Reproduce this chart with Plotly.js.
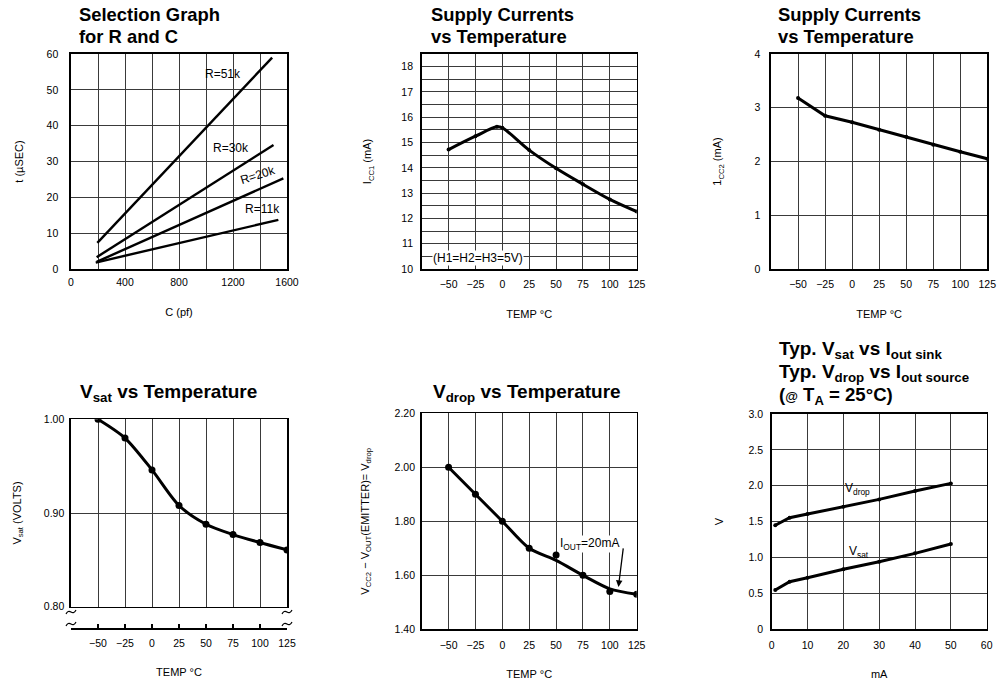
<!DOCTYPE html>
<html>
<head>
<meta charset="utf-8">
<script src="https://cdn.plot.ly/plotly-3.0.1.min.js"></script>
<style>html,body{margin:0;padding:0;background:#fff;}#chart{width:997px;height:682px;}</style>
</head>
<body>
<div id="chart"></div>
<script>
// ---------- data ----------
// Panel 1: Selection graph for R and C
const C_PF_51K = [195, 1490];
const T_US_51K = [7.3, 59.0];
const C_PF_30K = [190, 1500];
const T_US_30K = [3.3, 34.6];
const C_PF_20K = [190, 1573];
const T_US_20K = [2.0, 25.3];
const C_PF_11K = [183, 1536];
const T_US_11K = [1.8, 13.7];
const C_TICKS = [0, 400, 800, 1200, 1600];
const T_US_TICKS = [0, 10, 20, 30, 40, 50, 60];

// Temperature axis (shared by four panels)
const TEMP_C = [-50, -25, 0, 25, 50, 75, 100, 125];
const TEMP_TICKS = [-50, -25, 0, 25, 50, 75, 100, 125];

// Panel 2: ICC1 vs temperature
const ICC1_TEMP = [-50, -25, -5, 0, 25, 50, 75, 100, 125];
const ICC1_MA = [14.72, 15.25, 15.62, 15.58, 14.70, 13.98, 13.35, 12.75, 12.27];
const ICC1_TICKS = [10, 11, 12, 13, 14, 15, 16, 17, 18];

// Panel 3: ICC2 vs temperature
const ICC2_MA = [3.18, 2.85, 2.73, 2.59, 2.46, 2.31, 2.18, 2.05];
const ICC2_TICKS = [0, 1, 2, 3, 4];

// Panel 4: Vsat vs temperature
const VSAT_T = [1.000, 0.980, 0.946, 0.908, 0.888, 0.877, 0.8685, 0.8606];
const VSAT_TICKS = [0.80, 0.90, 1.00];
const VSAT_TICKTEXT = ['0.80', '0.90', '1.00'];

// Panel 5: Vdrop vs temperature
const VDROP_T_CURVE = [2.00, 1.90, 1.80, 1.70, 1.655, 1.60, 1.55, 1.53];
const VDROP_T_POINTS = [2.00, 1.90, 1.80, 1.70, 1.675, 1.60, 1.54, 1.53];
const VDROP_TICKS = [1.40, 1.60, 1.80, 2.00, 2.20];
const VDROP_TICKTEXT = ['1.40', '1.60', '1.80', '2.00', '2.20'];

// Panel 6: Vsat / Vdrop vs Iout at 25 C
const IOUT_MA = [1, 5, 10, 20, 30, 40, 50];
const VDROP_I = [1.45, 1.555, 1.606, 1.708, 1.81, 1.926, 2.033];
const VSAT_I = [0.547, 0.663, 0.719, 0.836, 0.942, 1.058, 1.188];
const IOUT_TICKS = [0, 10, 20, 30, 40, 50, 60];
const V_TICKS = [0, 0.5, 1.0, 1.5, 2.0, 2.5, 3.0];
const V_TICKTEXT = ['0', '0.5', '1.0', '1.5', '2.0', '2.5', '3.0'];

// ---------- styling ----------
const W = 997, H = 682;
const px = v => v / W;
const py = v => 1 - v / H;
const FAM = 'Liberation Sans, Arial, sans-serif';
const TICKFONT = {family: FAM, size: 10.5, color: '#000'};
const AXFONT = {family: FAM, size: 11, color: '#000'};
const ANNFONT = {family: FAM, size: 12, color: '#000'};
const TITLEFONT = {family: FAM, size: 18.4, color: '#000', weight: 700};
const TITLEFONT2 = {family: FAM, size: 19, color: '#000', weight: 700};
const GRID = '#3a3a3a';

function axis(extra) {
  return Object.assign({
    showgrid: true, gridcolor: GRID, gridwidth: 1,
    zeroline: false, showline: true, mirror: true, linecolor: '#000', linewidth: 1.6,
    ticks: '', tickfont: TICKFONT, tickmode: 'array', fixedrange: true
  }, extra);
}
const LINE = {color: '#000', width: 3};

const traces = [
  // panel 1
  {x: C_PF_51K, y: T_US_51K, xaxis: 'x', yaxis: 'y', mode: 'lines', line: {color: '#000', width: 2.4}},
  {x: C_PF_30K, y: T_US_30K, xaxis: 'x', yaxis: 'y', mode: 'lines', line: {color: '#000', width: 2.4}},
  {x: C_PF_20K, y: T_US_20K, xaxis: 'x', yaxis: 'y', mode: 'lines', line: {color: '#000', width: 2.4}},
  {x: C_PF_11K, y: T_US_11K, xaxis: 'x', yaxis: 'y', mode: 'lines', line: {color: '#000', width: 2.4}},
  // panel 2
  {x: ICC1_TEMP, y: ICC1_MA, xaxis: 'x2', yaxis: 'y2', mode: 'lines+markers',
    line: Object.assign({shape: 'spline', smoothing: 1}, LINE), marker: {color: '#000', size: 4}},
  // panel 3
  {x: TEMP_C, y: ICC2_MA, xaxis: 'x3', yaxis: 'y3', mode: 'lines+markers', line: LINE, marker: {color: '#000', size: 4}},
  // panel 4
  {x: TEMP_C, y: VSAT_T, xaxis: 'x4', yaxis: 'y4', mode: 'lines+markers', line: Object.assign({shape: 'spline', smoothing: 0.8}, LINE), marker: {color: '#000', size: 7}},
  {x: [], y: [], xaxis: 'x7', yaxis: 'y7', mode: 'lines'},
  // panel 5
  {x: TEMP_C, y: VDROP_T_CURVE, xaxis: 'x5', yaxis: 'y5', mode: 'lines', line: Object.assign({shape: 'spline', smoothing: 0.8}, LINE)},
  {x: TEMP_C, y: VDROP_T_POINTS, xaxis: 'x5', yaxis: 'y5', mode: 'markers', marker: {color: '#000', size: 7}},
  // panel 6
  {x: IOUT_MA, y: VDROP_I, xaxis: 'x6', yaxis: 'y6', mode: 'lines+markers', line: LINE, marker: {color: '#000', size: 4}},
  {x: IOUT_MA, y: VSAT_I, xaxis: 'x6', yaxis: 'y6', mode: 'lines+markers', line: LINE, marker: {color: '#000', size: 4}}
];

const tempX = (dom, anchor, extra) => axis(Object.assign({
  domain: dom, anchor: anchor, range: [-75, 125], tickvals: TEMP_TICKS, ticklabelstandoff: 5,
  title: {text: 'TEMP °C', font: AXFONT, standoff: 21}
}, extra || {}));

const SP = (sz, t) => '<span style="font-size:' + sz + 'px">' + t + '</span>';

const layout = {
  width: W, height: H, margin: {l: 0, r: 0, t: 0, b: 0},
  paper_bgcolor: '#fff', plot_bgcolor: '#fff', showlegend: false,
  font: {family: FAM, color: '#000'},
  // panel 1
  xaxis: axis({domain: [px(71), px(287)], anchor: 'y', range: [0, 1600], tickvals: C_TICKS,
    minor: {dtick: 200, showgrid: true, gridcolor: GRID, gridwidth: 1}, ticklabelstandoff: 3,
    title: {text: 'C (pf)', font: AXFONT, standoff: 21}}),
  yaxis: axis({domain: [py(269), py(54)], anchor: 'x', range: [0, 60], tickvals: T_US_TICKS, ticklabelstandoff: 9,
    title: {text: 't (µSEC)', font: AXFONT, standoff: 21}}),
  // panel 2
  xaxis2: tempX([px(421.7), px(636.7)], 'y2'),
  yaxis2: axis({domain: [py(269), py(54)], anchor: 'x2', range: [10, 18.5], tickvals: ICC1_TICKS, ticklabelstandoff: 5,
    minor: {dtick: 0.5, showgrid: true, gridcolor: GRID, gridwidth: 1},
    title: {text: 'I<sub>CC1</sub> (mA)', font: AXFONT, standoff: 27}}),
  // panel 3
  xaxis3: tempX([px(771), px(987.3)], 'y3'),
  yaxis3: axis({domain: [py(269), py(54)], anchor: 'x3', range: [0, 4], tickvals: ICC2_TICKS, ticklabelstandoff: 7,
    title: {text: '1<sub>CC2</sub> (mA)', font: AXFONT, standoff: 30}}),
  // panel 4
  xaxis4: axis({domain: [px(71), px(287)], anchor: 'y4', range: [-75, 125], tickvals: TEMP_TICKS, showticklabels: false}),
  yaxis4: axis({domain: [py(606.7), py(419.3)], anchor: 'x4', range: [0.8, 1.0], tickvals: VSAT_TICKS, ticktext: VSAT_TICKTEXT,
    ticklabelstandoff: 3, title: {text: 'V<sub>sat</sub> (VOLTS)', font: AXFONT, standoff: 20}}),
  xaxis7: tempX([px(71), px(287)], 'y7', {showgrid: false, mirror: false, ticks: 'inside', ticklen: 4, tickcolor: '#000', tickwidth: 1.3, ticklabelstandoff: 4}),
  yaxis7: {domain: [py(628.3), py(626)], anchor: 'x7', range: [0, 1], visible: false, fixedrange: true},
  // panel 5
  xaxis5: tempX([px(421.7), px(636.7)], 'y5'),
  yaxis5: axis({domain: [py(629.3), py(413.3)], anchor: 'x5', range: [1.4, 2.2], tickvals: VDROP_TICKS, ticktext: VDROP_TICKTEXT,
    ticklabelstandoff: 3, title: {text: 'V<sub>CC2</sub> − V<sub>OUT</sub>(EMITTER)= V<sub>drop</sub>', font: AXFONT, standoff: 23}}),
  // panel 6
  xaxis6: axis({domain: [px(771.7), px(986.7)], anchor: 'y6', range: [0, 60], tickvals: IOUT_TICKS, ticklabelstandoff: 5,
    title: {text: 'mA', font: AXFONT, standoff: 21}}),
  yaxis6: axis({domain: [py(629.3), py(414)], anchor: 'x6', range: [0, 3], tickvals: V_TICKS, ticktext: V_TICKTEXT,
    ticklabelstandoff: 5, title: {text: 'V', font: AXFONT, standoff: 22}}),
  annotations: [
    // titles
    {xref: 'paper', yref: 'paper', x: px(77), y: py(15), xanchor: 'left', yanchor: 'middle', showarrow: false,
      text: 'Selection Graph', font: TITLEFONT},
    {xref: 'paper', yref: 'paper', x: px(77), y: py(37), xanchor: 'left', yanchor: 'middle', showarrow: false,
      text: 'for R and C', font: TITLEFONT},
    {xref: 'paper', yref: 'paper', x: px(429), y: py(15), xanchor: 'left', yanchor: 'middle', showarrow: false,
      text: 'Supply Currents', font: TITLEFONT},
    {xref: 'paper', yref: 'paper', x: px(429), y: py(37), xanchor: 'left', yanchor: 'middle', showarrow: false,
      text: 'vs Temperature', font: TITLEFONT},
    {xref: 'paper', yref: 'paper', x: px(776), y: py(15), xanchor: 'left', yanchor: 'middle', showarrow: false,
      text: 'Supply Currents', font: TITLEFONT},
    {xref: 'paper', yref: 'paper', x: px(776), y: py(37), xanchor: 'left', yanchor: 'middle', showarrow: false,
      text: 'vs Temperature', font: TITLEFONT},
    {xref: 'paper', yref: 'paper', x: px(168), y: py(393), xanchor: 'center', yanchor: 'middle', showarrow: false,
      text: 'V<sub>sat</sub> vs Temperature', font: TITLEFONT2},
    {xref: 'paper', yref: 'paper', x: px(527), y: py(393), xanchor: 'center', yanchor: 'middle', showarrow: false,
      text: 'V<sub>drop</sub> vs Temperature', font: TITLEFONT2},
    {xref: 'paper', yref: 'paper', x: px(777), y: py(335.5), xanchor: 'left', yanchor: 'top', align: 'left', showarrow: false,
      text: SP(19, 'Typ. V<sub>sat</sub> vs I<sub>out sink</sub>') + '<br>' +
            SP(19, 'Typ. V<sub>drop</sub> vs I<sub>out source</sub>') + '<br>' +
            SP(18.6, '(' + SP(13, '@') + ' T<sub>A</sub> = 25°C)'),
      font: {family: FAM, size: 17.8, color: '#000', weight: 700}},
    // panel 1 labels
    {xref: 'x', yref: 'y', x: 1126, y: 54.4, text: 'R=51k', showarrow: false, font: ANNFONT},
    {xref: 'x', yref: 'y', x: 1185, y: 33.8, text: 'R=30k', showarrow: false, font: ANNFONT},
    {xref: 'x', yref: 'y', x: 1385, y: 26.2, text: 'R=20k', showarrow: false, font: ANNFONT, textangle: -18},
    {xref: 'x', yref: 'y', x: 1415, y: 16.7, text: 'R=11k', showarrow: false, font: ANNFONT},
    // panel 2 note
    {xref: 'x2', yref: 'y2', x: -65, y: 10.45, xanchor: 'left', text: '(H1=H2=H3=5V)', showarrow: false, font: ANNFONT,
      bgcolor: '#fff', borderpad: 0},
    // panel 5 note
    {xref: 'x5', yref: 'y5', x: 53, y: 1.715, xanchor: 'left', text: 'I<sub>OUT</sub>=20mA', showarrow: false, font: ANNFONT,
      bgcolor: '#fff', borderpad: 0},
    {xref: 'x5', yref: 'y5', x: 108, y: 1.557, text: '', showarrow: true, arrowhead: 2, arrowsize: 1, arrowwidth: 1.3,
      arrowcolor: '#000', ax: 5, ay: -40},
    // panel 6 labels
    {xref: 'x6', yref: 'y6', x: 24, y: 1.95, text: 'V<sub>drop</sub>', showarrow: false, font: ANNFONT},
    {xref: 'x6', yref: 'y6', x: 24.5, y: 1.08, text: 'V<sub>sat</sub>', showarrow: false, font: ANNFONT}
  ],
  shapes: [
    // axis-break squiggles on the Vsat panel
    {type: 'path', xref: 'paper', yref: 'paper', line: {color: '#000', width: 1.2},
      path: `M ${px(66)} ${py(614)} Q ${px(68)} ${py(610)} ${px(71)} ${py(612)} Q ${px(74)} ${py(614)} ${px(76)} ${py(610)}`},
    {type: 'path', xref: 'paper', yref: 'paper', line: {color: '#000', width: 1.2},
      path: `M ${px(66)} ${py(626)} Q ${px(68)} ${py(622)} ${px(71)} ${py(624)} Q ${px(74)} ${py(626)} ${px(76)} ${py(622)}`},
    {type: 'path', xref: 'paper', yref: 'paper', line: {color: '#000', width: 1.2},
      path: `M ${px(282)} ${py(614)} Q ${px(284)} ${py(610)} ${px(287)} ${py(612)} Q ${px(290)} ${py(614)} ${px(292)} ${py(610)}`},
    {type: 'path', xref: 'paper', yref: 'paper', line: {color: '#000', width: 1.2},
      path: `M ${px(282)} ${py(626)} Q ${px(284)} ${py(622)} ${px(287)} ${py(624)} Q ${px(290)} ${py(626)} ${px(292)} ${py(622)}`}
  ]
};

Plotly.newPlot('chart', traces, layout, {displayModeBar: false, staticPlot: true});
</script>
</body>
</html>
